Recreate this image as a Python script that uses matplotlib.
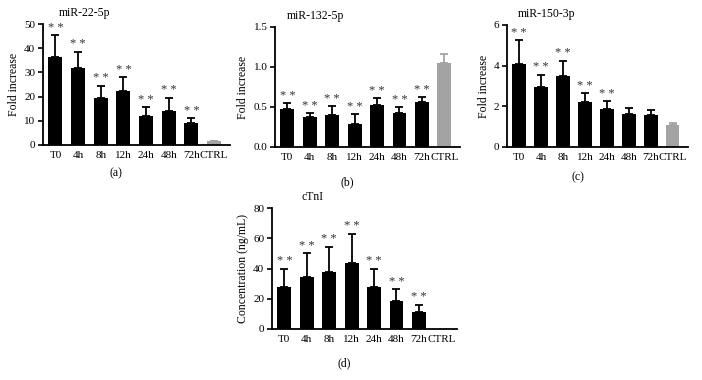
import numpy as np
import matplotlib
matplotlib.use("Agg")
import matplotlib.pyplot as plt
from matplotlib.ticker import FormatStrFormatter
from matplotlib.transforms import blended_transform_factory

plt.rcParams['font.family'] = ['Liberation Serif', 'DejaVu Serif']

groups = ['T0', '4h', '8h', '12h', '24h', '48h', '72h', 'CTRL']

mir22_mean = [36.5, 32, 19.5, 22.5, 12, 14, 9, 1.5]
mir22_err = [9, 6.5, 5, 5.5, 3.5, 5.5, 2, 0.3]
mir132_mean = [0.48, 0.37, 0.40, 0.29, 0.52, 0.42, 0.56, 1.05]
mir132_err = [0.07, 0.05, 0.11, 0.12, 0.09, 0.08, 0.06, 0.11]
mir150_mean = [4.1, 2.95, 3.5, 2.22, 1.85, 1.6, 1.58, 1.07]
mir150_err = [1.15, 0.6, 0.75, 0.43, 0.4, 0.32, 0.22, 0.11]
ctni_mean = [27.5, 34.5, 37.5, 43.5, 28, 18.5, 11, 0]
ctni_err = [12.5, 15.5, 17, 19.5, 12, 8, 5, 0]

# number of leading groups marked ** (vs CTRL)
mir22_sig = 7
mir132_sig = 7
mir150_sig = 5
ctni_sig = 7

W, H = 702, 380
fig = plt.figure(figsize=(W / 100, H / 100), dpi=100)


def box(l, t, r, b):
    return [l / W, 1 - b / H, (r - l) / W, (b - t) / H]


panels = [
    (box(43, 24, 230, 145), mir22_mean, mir22_err, mir22_sig, 'miR-22-5p', 'Fold increase',
     (0, 50), np.arange(0, 51, 10), '%d', '(a)', 173),
    (box(275, 27, 460, 147), mir132_mean, mir132_err, mir132_sig, 'miR-132-5p', 'Fold increase',
     (0, 1.5), np.arange(0, 1.51, 0.5), '%.1f', '(b)', 182),
    (box(507, 25, 688, 147), mir150_mean, mir150_err, mir150_sig, 'miR-150-3p', 'Fold increase',
     (0, 6), np.arange(0, 6.1, 2), '%d', '(c)', 177),
    (box(272, 208, 457, 329), ctni_mean, ctni_err, ctni_sig, 'cTnI', 'Concentration (ng/mL)',
     (0, 80), np.arange(0, 81, 20), '%d', '(d)', 363),
]

fs = 8
x = np.arange(len(groups))
for rect, mean, err, nsig, title, ylabel, ylim, yticks, fmt, tag, tag_y in panels:
    ax = fig.add_axes(rect)
    colors = ['black'] * 7 + ['#a3a3a3']
    ax.bar(x, mean, width=0.62, color=colors, zorder=2)
    for i in range(len(x)):
        if err[i] > 0:
            ax.errorbar(x[i], mean[i], yerr=[[0], [err[i]]], fmt='none',
                        ecolor=colors[i], elinewidth=1.3, capsize=3, capthick=1.3, zorder=1)
    for i in range(nsig):
        ax.annotate('* *', (x[i], mean[i] + err[i]), xytext=(0, 1),
                    textcoords='offset points', ha='center', va='bottom',
                    fontsize=9, color='#333333')
    ax.set_xlim(-0.55, 7.7)
    ax.set_ylim(*ylim)
    ax.set_yticks(yticks)
    ax.yaxis.set_major_formatter(FormatStrFormatter(fmt))
    ax.set_xticks(x)
    ax.set_xticklabels(groups)
    ax.tick_params(axis='x', length=0, labelsize=fs, pad=4)
    ax.tick_params(axis='y', length=3.5, width=1.2, labelsize=fs, pad=2)
    for s in ['top', 'right']:
        ax.spines[s].set_visible(False)
    for s in ['left', 'bottom']:
        ax.spines[s].set_linewidth(1.3)
    ax.set_ylabel(ylabel, fontsize=fs + 0.5, labelpad=3)
    ax.text(0.22, 1.04, title, transform=ax.transAxes, ha='center', va='bottom', fontsize=fs + 0.5)
    tr = blended_transform_factory(ax.transAxes, fig.transFigure)
    ax.text(0.39, 1 - tag_y / H, tag, transform=tr, ha='center', va='center', fontsize=fs + 0.5)

fig.savefig('out.png', dpi=100)
